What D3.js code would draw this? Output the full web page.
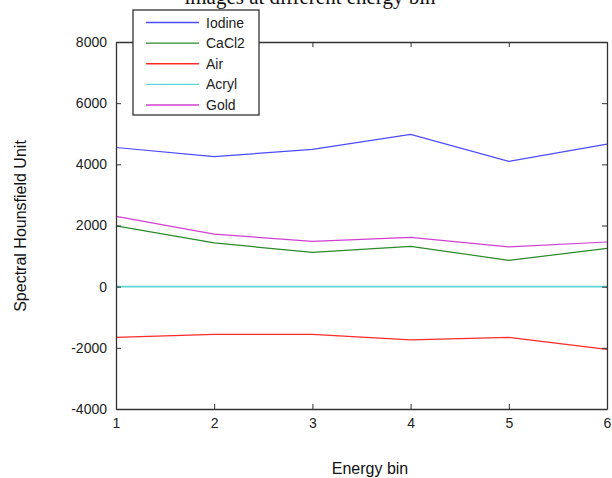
<!DOCTYPE html>
<html>
<head>
<meta charset="utf-8">
<script src="https://cdn.jsdelivr.net/npm/d3@7"></script>
<style>
  body { margin: 0; background: #fff; }
  svg { display: block; font-family: Arial, "Liberation Sans", sans-serif; }
</style>
</head>
<body>
<svg id="chart" width="612" height="478"></svg>
<script>
// data
let bins = [1, 2, 3, 4, 5, 6];
let seriesNames = ['Iodine', 'CaCl2', 'Air', 'Acryl', 'Gold'];
let iodine = [4550, 4250, 4490, 4980, 4100, 4660];
let cacl2 = [1990, 1430, 1120, 1320, 860, 1250];
let air = [-1660, -1560, -1560, -1740, -1660, -2050];
let acryl = [0, 0, 0, 0, 0, 0];
let gold = [2300, 1720, 1480, 1610, 1300, 1460];
let yTicks = [-4000, -2000, 0, 2000, 4000, 6000, 8000];

let colors = {
  Iodine: '#4b4bff',
  CaCl2: '#2a8a2a',
  Air: '#ff2a2a',
  Acryl: '#5cd6d6',
  Gold: '#d040d0'
};

let values = { Iodine: iodine, CaCl2: cacl2, Air: air, Acryl: acryl, Gold: gold };

let svg = d3.select('#chart');
let plot = { left: 116, right: 607, top: 42, bottom: 409 };

let x = d3.scaleLinear().domain([1, 6]).range([plot.left, plot.right]);
let y = d3.scaleLinear().domain([-4000, 8000]).range([plot.bottom, plot.top]);

// title, cut off at the top like the source
svg.append('text')
  .attr('x', 310).attr('y', 4)
  .attr('text-anchor', 'middle')
  .attr('font-family', '"Liberation Serif", "Times New Roman", serif')
  .attr('font-size', 21)
  .attr('fill', '#111')
  .text('images at different energy bin');

// lines
let line = d3.line().x((d, i) => x(bins[i])).y(d => y(d));
seriesNames.forEach(function(name) {
  svg.append('path')
    .datum(values[name])
    .attr('d', line)
    .attr('fill', 'none')
    .attr('stroke', colors[name])
    .attr('stroke-width', name == 'Acryl' ? 1.6 : 1.2);
});

// axes with inward ticks on all four sides
let axisColor = '#333';
let plain = d => String(d);
let bottomAxis = svg.append('g').attr('transform', 'translate(0,' + plot.bottom + ')')
  .call(d3.axisBottom(x).tickValues(bins).tickFormat(plain).tickSizeInner(-5).tickSizeOuter(0).tickPadding(9));
let leftAxis = svg.append('g').attr('transform', 'translate(' + plot.left + ',0)')
  .call(d3.axisLeft(y).tickValues(yTicks).tickFormat(plain).tickSizeInner(-5).tickSizeOuter(0).tickPadding(9));
let topAxis = svg.append('g').attr('transform', 'translate(0,' + plot.top + ')')
  .call(d3.axisTop(x).tickValues(bins).tickSizeInner(-5).tickSizeOuter(0).tickFormat(''));
let rightAxis = svg.append('g').attr('transform', 'translate(' + plot.right + ',0)')
  .call(d3.axisRight(y).tickValues(yTicks).tickSizeInner(-5).tickSizeOuter(0).tickFormat(''));

[bottomAxis, leftAxis, topAxis, rightAxis].forEach(function(g) {
  g.select('.domain').attr('stroke', axisColor).attr('stroke-width', 1.3);
  g.selectAll('.tick line').attr('stroke', axisColor);
  g.selectAll('.tick text').attr('fill', '#222').attr('font-size', 14)
    .attr('font-family', 'Arial, "Liberation Sans", sans-serif');
});

// axis labels
svg.append('text')
  .attr('x', 370).attr('y', 474)
  .attr('text-anchor', 'middle')
  .attr('font-size', 16).attr('fill', '#111')
  .text('Energy bin');

svg.append('text')
  .attr('transform', 'translate(26,226) rotate(-90)')
  .attr('text-anchor', 'middle')
  .attr('font-size', 16).attr('fill', '#111')
  .text('Spectral Hounsfield Unit');

// legend
let legend = svg.append('g').attr('transform', 'translate(133,10)');
legend.append('rect')
  .attr('width', 126).attr('height', 105)
  .attr('fill', '#fff').attr('stroke', axisColor).attr('stroke-width', 1.3);
let rowY = d3.scalePoint().domain(seriesNames).range([12.5, 95]);
seriesNames.forEach(function(name) {
  legend.append('line')
    .attr('x1', 13).attr('x2', 66)
    .attr('y1', rowY(name)).attr('y2', rowY(name))
    .attr('stroke', colors[name]).attr('stroke-width', 1.3);
  legend.append('text')
    .attr('x', 73).attr('y', rowY(name) + 5)
    .attr('font-size', 14).attr('fill', '#222')
    .text(name);
});
</script>
</body>
</html>
